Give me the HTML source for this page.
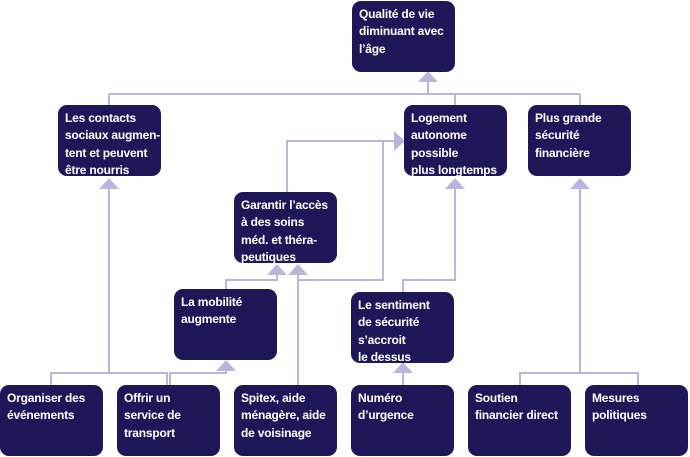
<!DOCTYPE html>
<html><head><meta charset="utf-8"><style>
body{margin:0;width:690px;height:457px;background:#fff;position:relative;overflow:hidden;font-family:"Liberation Sans",sans-serif}
.b{position:absolute;width:103px;height:71px;background:#1e1858;border-radius:9px;color:#fff;font-weight:bold;font-size:12px;line-height:17.3px;box-sizing:border-box;padding:5px 0 0 7px;letter-spacing:-0.2px;white-space:nowrap}
svg{position:absolute;left:0;top:0}
</style></head><body>
<svg width="690" height="457">
<g stroke="#b9b6dc" stroke-width="2" fill="none">
<path d="M428 80V94M109 94H580M109 94V105M455 94V105M580 94V105"/>
<path d="M109 188V373M51 385V373H167V385M170 385V373H226V369"/>
<path d="M287 192V141H396M383 141V280H298V385M298 273V280M226 289V280H277V273"/>
<path d="M455 188V280H403V292M403 371V385"/>
<path d="M580 188V373M520 385V373H638V385"/>
</g>
<g fill="#b9b6dc">
<polygon points="428,71 418,82 438,82"/>
<polygon points="109,178 99,189 119,189"/>
<polygon points="455,178 445,189 465,189"/>
<polygon points="580,178 570,189 590,189"/>
<polygon points="405,141 394,131 394,151"/>
<polygon points="277,264 267,275 287,275"/>
<polygon points="298,264 288,275 308,275"/>
<polygon points="226,360 216,371 236,371"/>
<polygon points="403,362 393,373 413,373"/>
</g>
</svg>
<div class="b" style="left:352px;top:1px">Qualité de vie<br>diminuant avec<br>l’âge</div>
<div class="b" style="left:58px;top:105px">Les contacts<br>sociaux augmen-<br>tent et peuvent<br>être nourris</div>
<div class="b" style="left:404px;top:105px">Logement<br>autonome<br>possible<br>plus longtemps</div>
<div class="b" style="left:528px;top:105px">Plus grande<br>sécurité<br>financière</div>
<div class="b" style="left:234px;top:192px">Garantir l’accès<br>à des soins<br>méd. et théra-<br>peutiques</div>
<div class="b" style="left:174px;top:289px">La mobilité<br>augmente</div>
<div class="b" style="left:351px;top:292px">Le sentiment<br>de sécurité<br>s’accroit<br>le dessus</div>
<div class="b" style="left:0px;top:385px">Organiser des<br>événements</div>
<div class="b" style="left:117px;top:385px">Offrir un<br>service de<br>transport</div>
<div class="b" style="left:234px;top:385px">Spitex, aide<br>ménagère, aide<br>de voisinage</div>
<div class="b" style="left:351px;top:385px">Numéro<br>d’urgence</div>
<div class="b" style="left:468px;top:385px">Soutien<br>financier direct</div>
<div class="b" style="left:585px;top:385px">Mesures<br>politiques</div>
</body></html>
